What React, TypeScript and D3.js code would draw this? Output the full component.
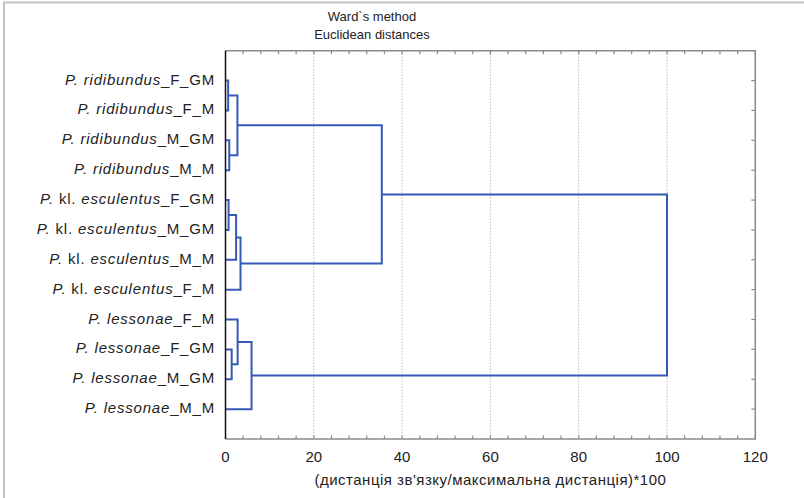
import React, { useRef, useEffect } from "react";
import * as d3 from "d3";

const leafLabels = [
  "P. ridibundus_F_GM",
  "P. ridibundus_F_M",
  "P. ridibundus_M_GM",
  "P. ridibundus_M_M",
  "P. kl. esculentus_F_GM",
  "P. kl. esculentus_M_GM",
  "P. kl. esculentus_M_M",
  "P. kl. esculentus_F_M",
  "P. lessonae_F_M",
  "P. lessonae_F_GM",
  "P. lessonae_M_GM",
  "P. lessonae_M_M",
];

// each merge joins two nodes; ids >= leafLabels.length point to earlier merges
const mergePairs: [number, number][] = [
  [0, 1],
  [2, 3],
  [12, 13],
  [4, 5],
  [15, 6],
  [16, 7],
  [9, 10],
  [8, 18],
  [19, 11],
  [14, 17],
  [21, 20],
];
const mergeHeights = [0.6, 0.85, 2.7, 0.7, 2.4, 3.4, 1.4, 2.75, 5.9, 35.4, 100];

const xTickValues = [0, 20, 40, 60, 80, 100, 120];
const titleLines = ["Ward`s method", "Euclidean distances"];
const xAxisTitle = "(дистанція зв'язку/максимальна дистанція)*100";

export default function App() {
  const ref = useRef<SVGSVGElement>(null);

  useEffect(() => {
    const width = 804;
    const height = 498;
    const plot = { left: 225.5, right: 755.3, top: 50.7, bottom: 439 };
    const blue = "#3559b8";
    const font = "'Liberation Sans', Arial, sans-serif";

    const svg = d3.select(ref.current);
    svg.selectAll("*").remove();
    svg.attr("width", width).attr("height", height);

    svg.append("rect").attr("width", width).attr("height", height).attr("fill", "#fff");

    // outer frame (cropped, only left and top show)
    svg.append("path")
      .attr("d", `M4,${height} V2.5 H${width}`)
      .attr("fill", "none")
      .attr("stroke", "#c4c4c4")
      .attr("stroke-width", 2);

    const x = d3.scaleLinear().domain([0, 120]).range([plot.left, plot.right]);
    const y = d3.scaleLinear().domain([0, leafLabels.length + 1]).range([plot.top, plot.bottom]);

    // titles
    titleLines.forEach((t, i) => {
      svg.append("text")
        .attr("x", 372)
        .attr("y", 18 + i * 18)
        .attr("text-anchor", "middle")
        .attr("dominant-baseline", "middle")
        .attr("font-family", font)
        .attr("font-size", 13)
        .attr("fill", "#222")
        .text(t);
    });

    // grid
    svg.append("g")
      .selectAll("line")
      .data(xTickValues.filter(v => v > 0 && v < 120))
      .enter()
      .append("line")
      .attr("x1", d => x(d)).attr("x2", d => x(d))
      .attr("y1", plot.top).attr("y2", plot.bottom)
      .attr("stroke", "#9a9a9a")
      .attr("stroke-width", 1)
      .attr("stroke-dasharray", "1,2");

    // minor ticks top/bottom, inward
    const minor = d3.range(0, 121, 4);
    const axisGrey = "#8a8a8a";
    svg.append("g")
      .selectAll("line")
      .data(minor)
      .enter()
      .append("line")
      .attr("x1", d => x(d)).attr("x2", d => x(d))
      .attr("y1", plot.top).attr("y2", plot.top + 3.5)
      .attr("stroke", axisGrey).attr("stroke-width", 1.2);
    svg.append("g")
      .selectAll("line")
      .data(minor)
      .enter()
      .append("line")
      .attr("x1", d => x(d)).attr("x2", d => x(d))
      .attr("y1", plot.bottom).attr("y2", plot.bottom - 3.5)
      .attr("stroke", axisGrey).attr("stroke-width", 1.2);

    // right ticks at leaves, inward
    svg.append("g")
      .selectAll("line")
      .data(leafLabels.map((_, i) => i + 1))
      .enter()
      .append("line")
      .attr("x1", plot.right).attr("x2", plot.right - 4)
      .attr("y1", d => y(d)).attr("y2", d => y(d))
      .attr("stroke", axisGrey).attr("stroke-width", 1.2);

    // frame of plot
    svg.append("path")
      .attr("d", `M${plot.left},${plot.top} H${plot.right} V${plot.bottom} H${plot.left}`)
      .attr("fill", "none")
      .attr("stroke", axisGrey)
      .attr("stroke-width", 1.5);

    // dendrogram
    const pos: { x: number; y: number }[] = leafLabels.map((_, i) => ({ x: 0, y: i + 1 }));
    const paths: string[] = [];
    mergePairs.forEach(([a, b], k) => {
      const h = mergeHeights[k];
      const pa = pos[a];
      const pb = pos[b];
      paths.push(`M${x(pa.x)},${y(pa.y)} H${x(h)} V${y(pb.y)} H${x(pb.x)}`);
      pos.push({ x: h, y: (pa.y + pb.y) / 2 });
    });
    svg.append("g")
      .selectAll("path")
      .data(paths)
      .enter()
      .append("path")
      .attr("d", d => d)
      .attr("fill", "none")
      .attr("stroke", blue)
      .attr("stroke-width", 2);

    // left axis (black)
    svg.append("line")
      .attr("x1", plot.left).attr("x2", plot.left)
      .attr("y1", plot.top).attr("y2", plot.bottom)
      .attr("stroke", "#111")
      .attr("stroke-width", 1.5);

    // leaf labels
    const lab = svg.append("g");
    leafLabels.forEach((l, i) => {
      const cut = l.indexOf("_");
      const prefix = l.slice(0, cut);
      const suffix = l.slice(cut);
      const t = lab.append("text")
        .attr("x", plot.left - 10.5)
        .attr("y", y(i + 1))
        .attr("text-anchor", "end")
        .attr("dominant-baseline", "middle")
        .attr("font-family", font)
        .attr("font-size", 15)
        .attr("letter-spacing", 0.8)
        .attr("fill", "#222");
      const words = prefix.split(" ");
      words.forEach((w, j) => {
        t.append("tspan")
          .attr("font-style", w === "kl." ? "normal" : "italic")
          .text(w + (j < words.length - 1 ? " " : ""));
      });
      t.append("tspan").attr("font-style", "normal").text(suffix);
    });

    // x tick labels
    svg.append("g")
      .selectAll("text")
      .data(xTickValues)
      .enter()
      .append("text")
      .attr("x", d => x(d))
      .attr("y", 458)
      .attr("text-anchor", "middle")
      .attr("dominant-baseline", "middle")
      .attr("font-family", font)
      .attr("font-size", 15)
      .attr("fill", "#222")
      .text(d => d);

    svg.append("text")
      .attr("x", (plot.left + plot.right) / 2)
      .attr("y", 481)
      .attr("text-anchor", "middle")
      .attr("dominant-baseline", "middle")
      .attr("font-family", font)
      .attr("font-size", 15)
      .attr("letter-spacing", 0.5)
      .attr("fill", "#222")
      .text(xAxisTitle);
  }, []);

  return (
    <div style={{ position: "absolute", left: 0, top: 0 }}>
      <svg ref={ref}></svg>
    </div>
  );
}
